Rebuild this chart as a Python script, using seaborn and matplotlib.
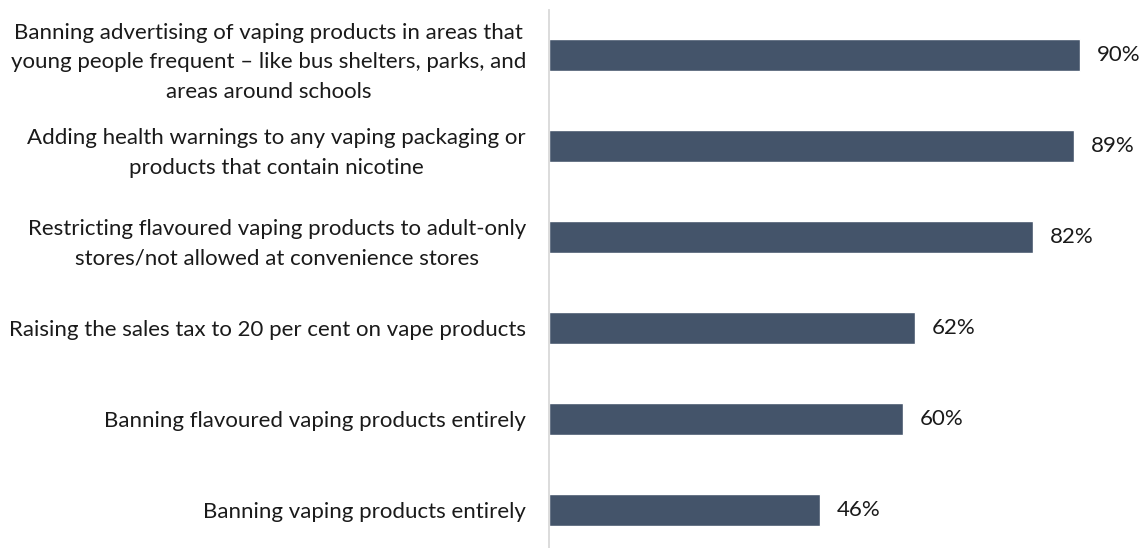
import matplotlib
matplotlib.use("Agg")
import matplotlib.pyplot as plt
import seaborn as sns
import pandas as pd

categories = [
    "Banning advertising of vaping products in areas that\nyoung people frequent \u2013 like bus shelters, parks, and\nareas around schools",
    "Adding health warnings to any vaping packaging or\nproducts that contain nicotine",
    "Restricting flavoured vaping products to adult-only\nstores/not allowed at convenience stores",
    "Raising the sales tax to 20 per cent on vape products",
    "Banning flavoured vaping products entirely",
    "Banning vaping products entirely",
]
support = [90, 89, 82, 62, 60, 46]

BAR_COLOR = "#44546A"
FONT = "Lato"
FS = 16

sns.set_theme(style="white")
plt.rcParams["font.family"] = [FONT, "DejaVu Sans"]

df = pd.DataFrame({"measure": categories, "support": support})

fig = plt.figure(figsize=(11.42, 5.48), dpi=100)
ax = fig.add_axes([549 / 1142, 0.0, 590 / 1142, 538 / 548])

sns.barplot(data=df, x="support", y="measure", orient="h", color=BAR_COLOR,
            width=0.352, saturation=1, ax=ax)

ax.set_xlim(0, 100)
ax.set_ylim(5.418, -0.5)
ax.set_xlabel("")
ax.set_ylabel("")
ax.set_xticks([])

for side in ["top", "right", "bottom"]:
    ax.spines[side].set_visible(False)
ax.spines["left"].set_color("#D9D9D9")
ax.spines["left"].set_linewidth(1.3)

ax.tick_params(axis="y", length=0, pad=16.5, labelsize=FS, labelcolor="#1a1a1a")
for lbl in ax.get_yticklabels():
    lbl.set_multialignment("center")
    lbl.set_linespacing(1.6)

ax.bar_label(ax.containers[0], labels=[f"{v}%" for v in support],
             padding=12, fontsize=FS, color="#1a1a1a")

fig.savefig("out.png", dpi=100)
